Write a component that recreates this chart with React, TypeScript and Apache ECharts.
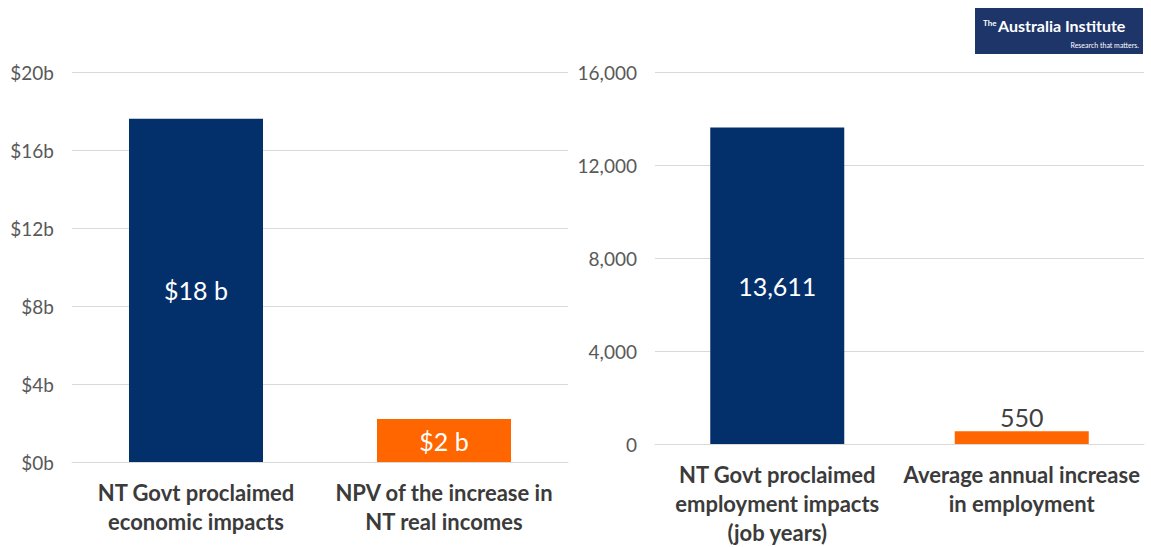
import React, { useEffect, useRef } from "react";
import * as echarts from "echarts";

const leftCategories = ["NT Govt proclaimed\neconomic impacts", "NPV of the increase in\nNT real incomes"];
const leftValues = [17.6, 2.2];
const leftLabels = ["$18 b", "$2 b"];
const rightCategories = ["NT Govt proclaimed\nemployment impacts\n(job years)", "Average annual increase\nin employment"];
const rightValues = [13611, 550];
const rightLabels = ["13,611", "550"];

const NAVY = "#03306B";
const ORANGE = "#FF6600";
const FONT = "Lato, 'Open Sans', sans-serif";

export default function App() {
  const ref = useRef<HTMLDivElement>(null);
  useEffect(() => {
    if (!ref.current) return;
    const chart = echarts.init(ref.current, undefined, { renderer: "svg" });
    const xLabel = {
      color: "#3b3b3b",
      fontSize: 22,
      fontWeight: "bold" as const,
      fontFamily: FONT,
      lineHeight: 29,
      margin: 16,
      interval: 0,
    };
    const yLabel = { color: "#595959", fontSize: 19, fontFamily: FONT, margin: 18 };
    const split = { show: true, lineStyle: { color: "#d9d9d9", width: 1 } };
    chart.setOption({
      animation: false,
      backgroundColor: "#ffffff",
      grid: [
        { left: 72, right: 583, top: 72, bottom: 85 },
        { left: 655, right: 7, top: 72, bottom: 100.5 },
      ],
      xAxis: [
        {
          type: "category", gridIndex: 0, data: leftCategories,
          axisLine: { show: true, lineStyle: { color: "#d9d9d9" } }, axisTick: { show: false },
          axisLabel: xLabel,
        },
        {
          type: "category", gridIndex: 1, data: rightCategories,
          axisLine: { show: true, lineStyle: { color: "#d9d9d9" } }, axisTick: { show: false },
          axisLabel: xLabel,
        },
      ],
      yAxis: [
        {
          type: "value", gridIndex: 0, min: 0, max: 20, interval: 4,
          axisLine: { show: false }, axisTick: { show: false }, splitLine: split,
          axisLabel: { ...yLabel, formatter: (v: number) => "$" + v + "b" },
        },
        {
          type: "value", gridIndex: 1, min: 0, max: 16000, interval: 4000,
          axisLine: { show: false }, axisTick: { show: false }, splitLine: split,
          axisLabel: { ...yLabel, formatter: (v: number) => v.toLocaleString("en-US") },
        },
      ],
      series: [
        {
          type: "bar", xAxisIndex: 0, yAxisIndex: 0, barWidth: 134,
          data: leftValues.map((v, i) => ({
            value: v,
            itemStyle: { color: i === 0 ? NAVY : ORANGE },
          })),
          label: {
            show: true, position: "inside", color: "#ffffff", fontSize: 25, fontFamily: FONT,
            formatter: (p: any) => leftLabels[p.dataIndex],
          },
        },
        {
          type: "bar", xAxisIndex: 1, yAxisIndex: 1, barWidth: 134,
          data: rightValues.map((v, i) => ({
            value: v,
            itemStyle: { color: i === 0 ? NAVY : ORANGE },
            label: i === 0
              ? { show: true, position: "inside", color: "#ffffff" }
              : { show: true, position: "top", color: "#404040", distance: 2 },
          })),
          label: {
            show: true, fontSize: 25, fontFamily: FONT,
            formatter: (p: any) => rightLabels[p.dataIndex],
          },
        },
      ],
      graphic: [
        {
          type: "group", left: 975, top: 8,
          children: [
            { type: "rect", shape: { x: 0, y: 0, width: 168, height: 46 }, style: { fill: "#1E3569" } },
            { type: "text", x: 8, y: 11, style: { text: "The", fill: "#ffffff", fontSize: 8, fontWeight: "bold", fontFamily: FONT, letterSpacing: -0.3 } },
            { type: "text", x: 23, y: 9, style: { text: "Australia Institute", fill: "#ffffff", fontSize: 16, fontWeight: "bold", fontFamily: FONT, letterSpacing: -0.7 } },
            { type: "text", x: 164, y: 33, style: { text: "Research that matters.", fill: "#ffffff", fontSize: 7, align: "right", fontFamily: FONT, letterSpacing: -0.2 } },
          ],
        },
      ],
    });
    return () => chart.dispose();
  }, []);
  return <div ref={ref} style={{ width: 1151, height: 547, position: "absolute", left: 0, top: 0 }} />;
}
